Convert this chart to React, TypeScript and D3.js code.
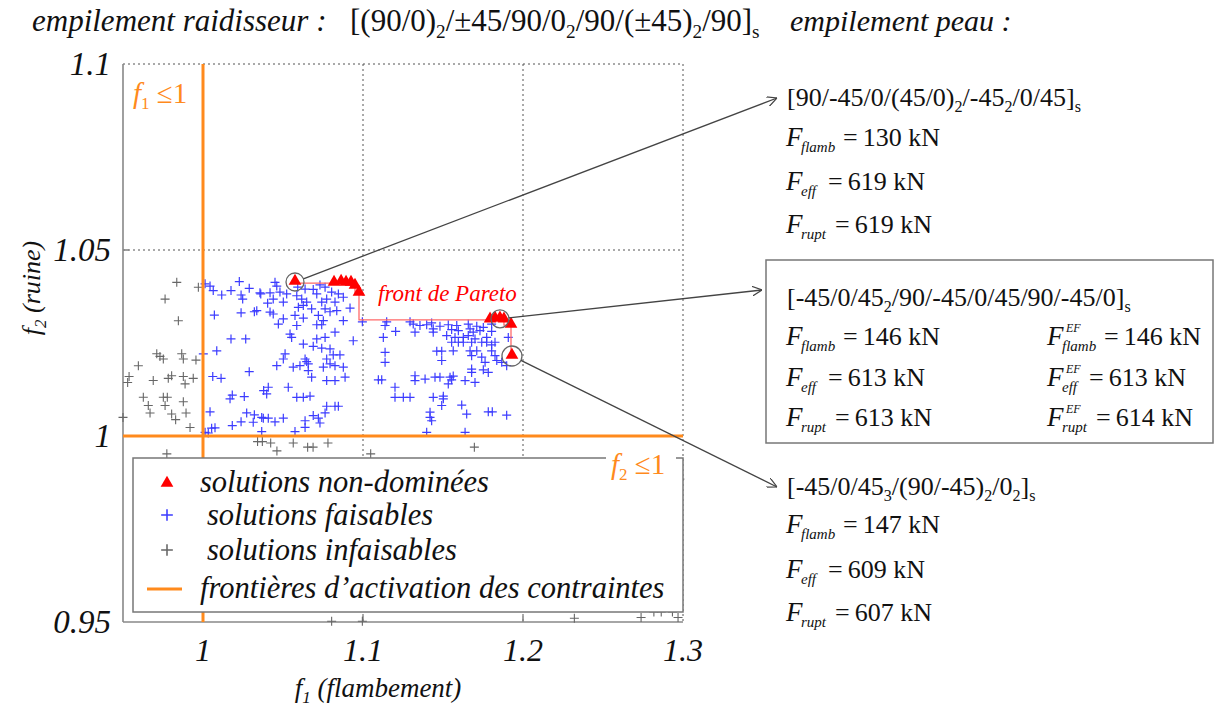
import React from 'react';
import * as d3 from 'd3';

const SERIF = 'Liberation Serif';
const ORANGE = '#ff8a1c';
const BLUE = '#3c3cff';
const GREY = '#666';

const xTicks = [1, 1.1, 1.2, 1.3];
const yTicks = [0.95, 1, 1.05, 1.1];
const xTickLabels = ['1', '1.1', '1.2', '1.3'];
const yTickLabels = ['0.95', '1', '1.05', '1.1'];

// non-dominated solutions (Pareto front)
const paretoF1 = [1.0575, 1.0819, 1.0863, 1.0894, 1.0925, 1.095, 1.0975, 1.1794, 1.1825, 1.1856, 1.1881, 1.1925, 1.1931];
const paretoF2 = [1.0414, 1.0411, 1.0414, 1.0411, 1.0411, 1.0403, 1.0384, 1.0312, 1.0315, 1.0315, 1.0312, 1.0298, 1.0215];
const highlighted = [0, 9, 12];

// feasible solutions [f1, f2]
const feasible: [number, number][] = [
  [1.0013, 1.0409], [1.0044, 1.0403], [1.0064, 1.0391], [1.0117, 1.0379], [1.0175, 1.0391],
  [1.0227, 1.0415], [1.0238, 1.0379], [1.0248, 1.0368], [1.0289, 1.0397], [1.0361, 1.0382],
  [1.0071, 1.0325], [1.0238, 1.0331], [1.0321, 1.0334], [1.0175, 1.0261], [1.0267, 1.0261],
  [1.0086, 1.0229], [1.0002, 1.0221], [1.0061, 1.016], [1.0113, 1.0155], [1.0289, 1.0173],
  [1.0183, 1.011], [1.0169, 1.01], [1.0258, 1.0106], [1.0379, 1.0122], [1.0044, 1.0065],
  [1.0273, 1.0062], [1.0321, 1.0057], [1.0367, 1.005], [1.0238, 1.0038], [1.0314, 1.0037],
  [1.0183, 1.0028], [1.0075, 1.0022], [1.0054, 1.0021], [1.0013, 1.001], [1.0033, 1.0008],
  [1.045, 1.0413], [1.0461, 1.0403], [1.0356, 1.0385], [1.0419, 1.0385], [1.0481, 1.0387],
  [1.0523, 1.0382], [1.0439, 1.0368], [1.0502, 1.036], [1.0404, 1.0357], [1.0336, 1.0337],
  [1.0592, 1.04], [1.0638, 1.0395], [1.0689, 1.0394], [1.0731, 1.0406], [1.0763, 1.04],
  [1.0804, 1.0387], [1.0846, 1.0382], [1.0877, 1.0373], [1.0586, 1.0377], [1.0617, 1.0368],
  [1.0648, 1.036], [1.0711, 1.0382], [1.0773, 1.0368], [1.0742, 1.036], [1.0825, 1.036],
  [1.0596, 1.0346], [1.0627, 1.0351], [1.0679, 1.0342], [1.0763, 1.0342], [1.0794, 1.0334],
  [1.0919, 1.0344], [1.0836, 1.0337], [1.0419, 1.0333], [1.0439, 1.0328], [1.0502, 1.0315],
  [1.0471, 1.0301], [1.0575, 1.0324], [1.0627, 1.0317], [1.0586, 1.0297], [1.0721, 1.0324],
  [1.0752, 1.031], [1.0711, 1.0299], [1.0742, 1.0299], [1.0877, 1.031], [1.0825, 1.0279],
  [1.0544, 1.0274], [1.0554, 1.0265], [1.0711, 1.0261], [1.0763, 1.0265], [1.0939, 1.0256],
  [1.0627, 1.0247], [1.0689, 1.0241], [1.0742, 1.0236], [1.0794, 1.0234], [1.0814, 1.0218],
  [1.0856, 1.0218], [1.0513, 1.0221], [1.0502, 1.0207], [1.0638, 1.0207], [1.0648, 1.02],
  [1.0773, 1.0207], [1.0461, 1.0189], [1.0564, 1.0185], [1.0606, 1.0189], [1.0658, 1.0194],
  [1.0752, 1.0185], [1.0794, 1.0194], [1.0825, 1.0189], [1.0877, 1.0185], [1.0658, 1.0176],
  [1.0679, 1.0158], [1.0773, 1.0149], [1.0825, 1.0149], [1.0888, 1.0158], [1.0408, 1.0131],
  [1.0398, 1.0113], [1.0533, 1.0131], [1.0586, 1.0104], [1.0627, 1.0104], [1.0669, 1.0107],
  [1.0773, 1.008], [1.0825, 1.008], [1.0846, 1.008], [1.0763, 1.0062], [1.0689, 1.0055],
  [1.0721, 1.0048], [1.0731, 1.0035], [1.0377, 1.0048], [1.0408, 1.0048], [1.045, 1.0038],
  [1.0502, 1.0048], [1.0638, 1.0041], [1.0638, 1.0023], [1.0575, 1.0012], [1.0367, 1.0012],
  [1.0996, 1.0307], [1.1148, 1.0307], [1.1138, 1.0297], [1.1204, 1.0281], [1.1127, 1.0265],
  [1.1294, 1.0307], [1.1314, 1.0301], [1.1356, 1.0297], [1.1325, 1.0279], [1.1398, 1.0299],
  [1.1429, 1.0304], [1.1439, 1.0288], [1.1439, 1.0279], [1.1481, 1.0295], [1.1533, 1.0299],
  [1.1554, 1.0286], [1.1523, 1.027], [1.1586, 1.0297], [1.1596, 1.0283], [1.1575, 1.0265],
  [1.1658, 1.0301], [1.1669, 1.0288], [1.1689, 1.0279], [1.1658, 1.027], [1.1627, 1.0265],
  [1.1711, 1.0295], [1.1731, 1.0283], [1.1752, 1.0292], [1.1804, 1.0301], [1.1804, 1.0281],
  [1.17, 1.0261], [1.1679, 1.0252], [1.1773, 1.0265], [1.1908, 1.0265], [1.1554, 1.0252],
  [1.1596, 1.0252], [1.1627, 1.0252], [1.1742, 1.0252], [1.1773, 1.0252], [1.1804, 1.0245],
  [1.1825, 1.0252], [1.1804, 1.0229], [1.1138, 1.0225], [1.1138, 1.0198], [1.1461, 1.0228],
  [1.1492, 1.0228], [1.1564, 1.0229], [1.1492, 1.0203], [1.1669, 1.0229], [1.1711, 1.0229],
  [1.1679, 1.0216], [1.1742, 1.0212], [1.1763, 1.0198], [1.1825, 1.0216], [1.1836, 1.0203],
  [1.1867, 1.0198], [1.1898, 1.0189], [1.1679, 1.018], [1.1679, 1.0171], [1.1752, 1.0178],
  [1.1783, 1.0171], [1.1096, 1.0151], [1.1117, 1.0151], [1.1325, 1.0162], [1.1325, 1.0149],
  [1.1388, 1.0153], [1.145, 1.0158], [1.1481, 1.0158], [1.1544, 1.0158], [1.1564, 1.0161],
  [1.1554, 1.0151], [1.1533, 1.014], [1.1638, 1.0149], [1.17, 1.0144], [1.12, 1.0131],
  [1.12, 1.0104], [1.1252, 1.0104], [1.1294, 1.0104], [1.1439, 1.0104], [1.1502, 1.0107],
  [1.1502, 1.01], [1.1492, 1.0082], [1.1617, 1.0083], [1.1648, 1.0059], [1.1419, 1.0064],
  [1.1419, 1.005], [1.1429, 1.0041], [1.1783, 1.0065], [1.1808, 1.0065], [1.1898, 1.0056],
  [1.1398, 1.001], [1.1638, 1.001],
];

// infeasible solutions [f1, f2]
const infeasible: [number, number][] = [
  [0.9836, 1.0413], [0.9971, 1.04], [0.9763, 1.0368], [0.9846, 1.031], [0.9711, 1.0221],
  [0.9731, 1.0214], [0.9752, 1.0207], [0.9867, 1.0221], [0.9877, 1.0207], [0.9956, 1.0204],
  [0.9596, 1.0189], [0.9538, 1.016], [0.9529, 1.0144], [0.9689, 1.0149], [0.9783, 1.0155],
  [0.9804, 1.0162], [0.9877, 1.016], [0.9888, 1.014], [0.9939, 1.0155], [0.9627, 1.0104],
  [0.9752, 1.0104], [0.9777, 1.0104], [0.9877, 1.0092], [0.9658, 1.0082], [0.9763, 1.0082],
  [0.9669, 1.0062], [0.9804, 1.0059], [0.9829, 1.0044], [0.9894, 1.0062], [0.9919, 1.0023],
  [0.95, 1.005], [1.0341, 0.9985], [1.0371, 0.9985], [1.0423, 0.9981], [1.0462, 0.996],
  [1.0654, 0.997], [1.0688, 0.997], [1.0781, 0.9981], [0.9774, 0.9952], [1.1048, 0.9952],
  [1.1696, 0.997], [1.0564, 0.9981], [1.0804, 0.9502], [1.0996, 0.9502], [1.2321, 0.951],
  [1.2738, 0.9512], [1.2818, 0.9527], [1.2864, 0.9527], [1.2934, 0.9527], [1.2969, 0.9512],
  [1.298, 0.9884],
];

type Seg = { t: string; sub?: boolean };

const stiffenerLayup: Seg[] = [
  { t: '[(90/0)' }, { t: '2', sub: true }, { t: '/±45/90/0' }, { t: '2', sub: true },
  { t: '/90/(±45)' }, { t: '2', sub: true }, { t: '/90]' }, { t: 's', sub: true },
];

const skinLayups: Seg[][] = [
  [{ t: '[90/-45/0/(45/0)' }, { t: '2', sub: true }, { t: '/-45' }, { t: '2', sub: true }, { t: '/0/45]' }, { t: 's', sub: true }],
  [{ t: '[-45/0/45' }, { t: '2', sub: true }, { t: '/90/-45/0/45/90/-45/0]' }, { t: 's', sub: true }],
  [{ t: '[-45/0/45' }, { t: '3', sub: true }, { t: '/(90/-45)' }, { t: '2', sub: true }, { t: '/0' }, { t: '2', sub: true }, { t: ']' }, { t: 's', sub: true }],
];
const forceNames = ['flamb', 'eff', 'rupt'];
const skinForces = [
  ['130', '619', '619'],
  ['146', '613', '613'],
  ['147', '609', '607'],
];
const efForces = ['146', '613', '614'];

const width = 1216;
const height = 707;

const x = d3.scaleLinear().domain([0.95, 1.3]).range([123, 683]);
const y = d3.scaleLinear().domain([0.95, 1.1]).range([622, 64]);

const plus = 'M-4.5,0H4.5M0,-4.5V4.5';
const tri = d3.symbol().type(d3.symbolTriangle).size(70)()!;
const ff = { fontFamily: SERIF };

const Rich = ({ segs, xPos, yPos, size }: { segs: Seg[]; xPos: number; yPos: number; size: number }) => {
  let shift = 0;
  return (
    <text x={xPos} y={yPos} style={ff} fontSize={size} fill="#111">
      {segs.map((s, i) => {
        const target = s.sub ? size * 0.24 : 0;
        const dy = target - shift;
        shift = target;
        return (
          <tspan key={i} dy={dy} fontSize={s.sub ? size * 0.62 : size}>
            {s.t}
          </tspan>
        );
      })}
    </text>
  );
};

const eqOffset: Record<string, number> = { flamb: 57, eff: 42, rupt: 49 };

const Force = ({ xPos, yPos, name, value, ef }: { xPos: number; yPos: number; name: string; value: string; ef?: boolean }) => (
  <g fill="#111">
    <text x={xPos} y={yPos} style={ff} fontSize={27} fontStyle="italic">F</text>
    <text x={xPos + 15} y={yPos + 6} style={ff} fontSize={15} fontStyle="italic">{name}</text>
    {ef && <text x={xPos + 19} y={yPos - 13} style={ff} fontSize={12} fontStyle="italic">EF</text>}
    <text x={xPos + eqOffset[name]} y={yPos} style={ff} fontSize={26}>{'=' + '\u2009' + value + ' kN'}</text>
  </g>
);

export default function App() {
  const front = d3
    .line<number>()
    .x(i => x(paretoF1[i]))
    .y(i => y(paretoF2[i]))
    .curve(d3.curveStepBefore)(paretoF1.map((_, i) => i))!;

  const arrowEnds: [number, number][] = [
    [777, 98],
    [762, 290],
    [777, 487],
  ];
  const circleR = [9, 9, 10];

  const blockTop = [106, 306, 495];
  const rowGap = [[146, 190, 233], [345, 386, 426], [533, 578, 621]];

  return (
    <div style={{ position: 'absolute', left: 0, top: 0 }}>
      <svg width={width} height={height} style={{ display: 'block', background: '#fff', fontFamily: SERIF }}>
        <defs>
          <marker id="arr" viewBox="0 0 10 10" refX="10" refY="5" markerWidth="10" markerHeight="10" orient="auto" markerUnits="userSpaceOnUse">
            <path d="M0,0L10,5L0,10" fill="none" stroke="#444" strokeWidth={1.2} />
          </marker>
        </defs>

        {/* titles */}
        <text x={32} y={31} style={ff} fontSize={31} fontStyle="italic" fill="#111">empilement raidisseur :</text>
        <Rich segs={stiffenerLayup} xPos={350} yPos={31} size={31} />
        <text x={790} y={31} style={ff} fontSize={30} fontStyle="italic" fill="#111">empilement peau :</text>

        {/* grid */}
        <g stroke="#555" strokeWidth={1} strokeDasharray="2,3">
          {[1.1, 1.2, 1.3].map(v => (
            <line key={v} x1={x(v)} x2={x(v)} y1={y(1.1)} y2={y(0.95)} />
          ))}
          {[1.05, 1.1].map(v => (
            <line key={v} x1={x(0.95)} x2={x(1.3)} y1={y(v)} y2={y(v)} />
          ))}
        </g>
        <g stroke="#888" strokeWidth={1.6}>
          <line x1={x(0.95)} x2={x(0.95)} y1={y(1.1)} y2={y(0.95)} />
          <line x1={x(0.95)} x2={x(1.3)} y1={y(0.95)} y2={y(0.95)} />
          {[1.1, 1.2].map(v => (
            <line key={v} x1={x(v)} x2={x(v)} y1={y(0.95)} y2={y(0.95) - 6} />
          ))}
          {[1, 1.05].map(v => (
            <line key={v} x1={x(0.95)} x2={x(0.95) + 6} y1={y(v)} y2={y(v)} />
          ))}
        </g>

        {/* tick labels */}
        <g fill="#111">
          {yTicks.map((v, i) => (
            <text key={v} x={111} y={y(v) + 11} textAnchor="end" style={ff} fontSize={33} fontStyle="italic">{yTickLabels[i]}</text>
          ))}
          {xTicks.map((v, i) => (
            <text key={v} x={x(v)} y={661} textAnchor="middle" style={ff} fontSize={32} fontStyle="italic">{xTickLabels[i]}</text>
          ))}
        </g>

        {/* axis titles */}
        <text x={378} y={697} textAnchor="middle" style={ff} fontSize={27} fontStyle="italic" fill="#111">
          f<tspan fontSize={17} dy={6}>1</tspan><tspan dy={-6}> (flambement)</tspan>
        </text>
        <text transform="translate(40,288) rotate(-90)" textAnchor="middle" style={ff} fontSize={26} fontStyle="italic" fill="#111">
          f<tspan fontSize={17} dy={6}>2</tspan><tspan dy={-6}> (ruine)</tspan>
        </text>

        {/* points */}
        <g stroke={GREY} strokeWidth={1.1} fill="none">
          {infeasible.map((d, i) => (
            <path key={i} d={plus} transform={`translate(${x(d[0])},${y(d[1])})`} />
          ))}
        </g>
        <g stroke={BLUE} strokeWidth={1.2} fill="none">
          {feasible.map((d, i) => (
            <path key={i} d={plus} transform={`translate(${x(d[0])},${y(d[1])})`} />
          ))}
        </g>

        {/* constraint boundaries */}
        <g stroke={ORANGE} strokeWidth={3}>
          <line x1={x(1)} x2={x(1)} y1={y(1.1)} y2={y(0.95)} />
          <line x1={x(0.95)} x2={x(1.3)} y1={y(1)} y2={y(1)} />
        </g>
        <text x={133} y={103} style={ff} fontSize={29} fill={ORANGE}>
          <tspan fontStyle="italic">f</tspan><tspan fontSize={17} dy={6}>1</tspan><tspan dy={-6}> ≤1</tspan>
        </text>

        {/* Pareto front */}
        <path d={front} fill="none" stroke="#ff6a6a" strokeWidth={1.3} />
        <g fill="#ff0000">
          {paretoF1.map((v, i) => (
            <path key={i} d={tri} transform={`translate(${x(v)},${y(paretoF2[i]) - 1})`} />
          ))}
        </g>
        <text x={378} y={301} style={ff} fontSize={23} fontStyle="italic" fill="#ff0000">front de Pareto</text>

        {/* annotations */}
        {highlighted.map((idx, k) => {
          const cx = x(paretoF1[idx]);
          const cy = y(paretoF2[idx]);
          const [ex, ey] = arrowEnds[k];
          const a = Math.atan2(ey - cy, ex - cx);
          return (
            <g key={idx}>
              <circle cx={cx} cy={cy} r={circleR[k]} fill="none" stroke="#666" strokeWidth={1.3} />
              <line
                x1={cx + circleR[k] * Math.cos(a)}
                y1={cy + circleR[k] * Math.sin(a)}
                x2={ex}
                y2={ey}
                stroke="#444"
                strokeWidth={1.3}
                markerEnd="url(#arr)"
              />
            </g>
          );
        })}

        {/* legend */}
        <rect x={133} y={458} width={550} height={154} fill="#fff" stroke="#777" strokeWidth={1.5} />
        <rect x={606} y={448} width={70} height={30} fill="#fff" />
        <text x={611} y={474} style={ff} fontSize={29} fill={ORANGE}>
          <tspan fontStyle="italic">f</tspan><tspan fontSize={17} dy={6}>2</tspan><tspan dy={-6}> ≤1</tspan>
        </text>
        <path d={tri} fill="#ff0000" transform="translate(167,483)" />
        <path d={plus} stroke={BLUE} strokeWidth={1.2} transform="translate(167,515) scale(1.3)" />
        <path d={plus} stroke={GREY} strokeWidth={1.2} transform="translate(167,550) scale(1.3)" />
        <line x1={147} x2={182} y1={589} y2={589} stroke={ORANGE} strokeWidth={3} />
        <g fill="#111">
          <text x={200} y={492} style={ff} fontSize={30.5} fontStyle="italic">solutions non-dominées</text>
          <text x={207} y={525} style={ff} fontSize={30.5} fontStyle="italic">solutions faisables</text>
          <text x={207} y={560} style={ff} fontSize={30.5} fontStyle="italic">solutions infaisables</text>
          <text x={200} y={598} style={ff} fontSize={30.5} fontStyle="italic">frontières d’activation des contraintes</text>
        </g>

        {/* skin layups */}
        <rect x={766} y={260} width={447} height={183} fill="#fff" stroke="#777" strokeWidth={1.5} />
        {skinLayups.map((segs, b) => (
          <g key={b}>
            <Rich segs={segs} xPos={787} yPos={blockTop[b]} size={26} />
            {forceNames.map((n, r) => (
              <Force key={n} xPos={786} yPos={rowGap[b][r]} name={n} value={skinForces[b][r]} />
            ))}
          </g>
        ))}
        {forceNames.map((n, r) => (
          <Force key={n} xPos={1047} yPos={rowGap[1][r]} name={n} value={efForces[r]} ef />
        ))}
      </svg>
    </div>
  );
}
